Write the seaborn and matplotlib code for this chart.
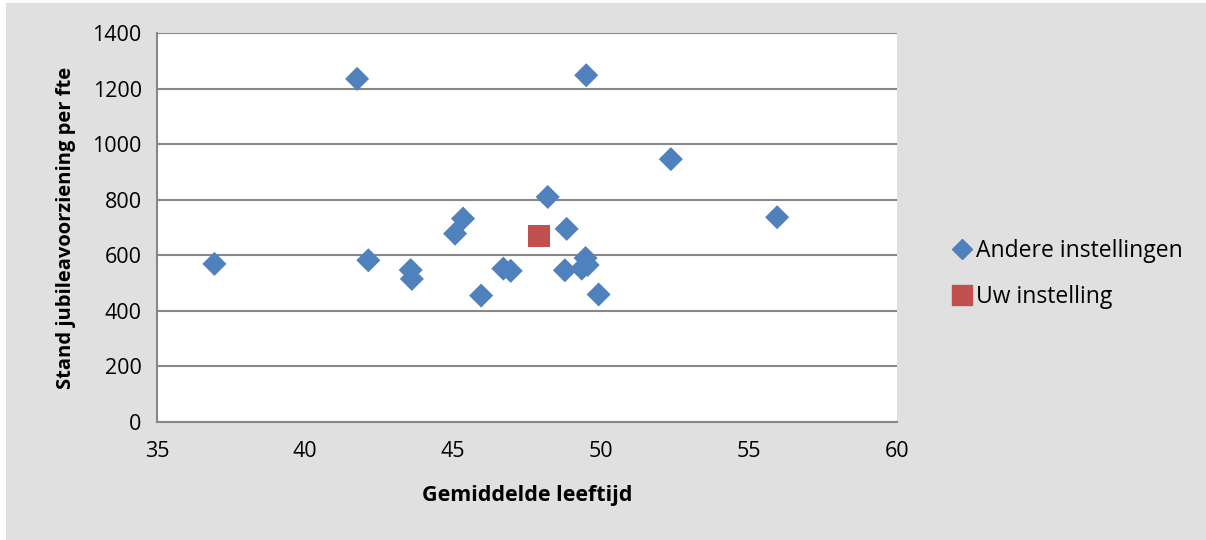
import matplotlib
matplotlib.use("Agg")
import matplotlib.pyplot as plt
import seaborn as sns
import pandas as pd
from matplotlib.patches import Rectangle
from matplotlib.lines import Line2D

# Data
andere_leeftijd = [36.94, 41.76, 49.50, 42.14, 43.57, 43.61, 45.34, 45.07, 45.95,
                   46.70, 46.95, 48.20, 48.84, 48.78, 49.48, 49.35, 49.55, 49.92,
                   52.36, 55.95]
andere_stand = [569, 1235, 1248, 582, 547, 515, 732, 678, 455,
                552, 544, 810, 695, 546, 590, 552, 565, 459,
                946, 737]
uw_leeftijd = [47.92]
uw_stand = [669]
series_names = ["Andere instellingen", "Uw instelling"]
x_ticks = [35, 40, 45, 50, 55, 60]
y_ticks = [0, 200, 400, 600, 800, 1000, 1200, 1400]
x_label = "Gemiddelde leeftijd"
y_label = "Stand jubileavoorziening per fte"

df_andere = pd.DataFrame({"x": andere_leeftijd, "y": andere_stand})
df_uw = pd.DataFrame({"x": uw_leeftijd, "y": uw_stand})

sns.set_theme(style="white")
plt.rcParams["font.family"] = ["Open Sans", "DejaVu Sans"]
plt.rcParams["text.color"] = "black"
plt.rcParams["axes.labelcolor"] = "black"

BLUE = "#4F81BD"
RED = "#C0504D"
BG = "#E0E0E0"
GRID = "#888888"

fig = plt.figure(figsize=(12.06, 5.4), dpi=100, facecolor="white")
fig.patches.append(Rectangle((6 / 1206, 0), 1 - 6 / 1206, 1 - 3 / 540,
                             transform=fig.transFigure, facecolor=BG,
                             edgecolor="none", zorder=-10))
ax = fig.add_axes([157 / 1206, 1 - 422 / 540, 740 / 1206, 389 / 540])
ax.set_facecolor("white")

sns.scatterplot(data=df_andere, x="x", y="y", ax=ax, marker="D", s=150,
                color=BLUE, edgecolor="none", linewidth=0, zorder=3)
sns.scatterplot(data=df_uw, x="x", y="y", ax=ax, marker="s", s=250,
                color=RED, edgecolor="none", linewidth=0, zorder=3)

ax.set_xlim(35, 60)
ax.set_ylim(0, 1400)
ax.set_xticks(x_ticks)
ax.set_yticks(y_ticks)
ax.tick_params(axis="both", labelsize=15.5, length=0, colors="black")
ax.tick_params(axis="x", pad=14)
ax.tick_params(axis="y", pad=11)
ax.grid(axis="y", color=GRID, linewidth=1.5)
ax.grid(axis="x", visible=False)
ax.set_axisbelow(True)
for side in ["top", "right"]:
    ax.spines[side].set_visible(False)
for side in ["left", "bottom"]:
    ax.spines[side].set_color(GRID)
    ax.spines[side].set_linewidth(1.5)

ax.set_xlabel(x_label, fontsize=15.5, fontweight="bold", labelpad=16)
ax.set_ylabel(y_label, fontsize=14.5, fontweight="bold", labelpad=12)

handles = [Line2D([], [], marker="D", linestyle="none", color=BLUE, markersize=10),
           Line2D([], [], marker="s", linestyle="none", color=RED, markersize=14)]
fig.legend(handles, series_names, loc="center left",
           bbox_to_anchor=(928 / 1206, 1 - 274 / 540), frameon=False,
           fontsize=16.5, handletextpad=0.0, handlelength=1.2, labelspacing=1.0)

fig.savefig("out.png", dpi=100, facecolor="white")
